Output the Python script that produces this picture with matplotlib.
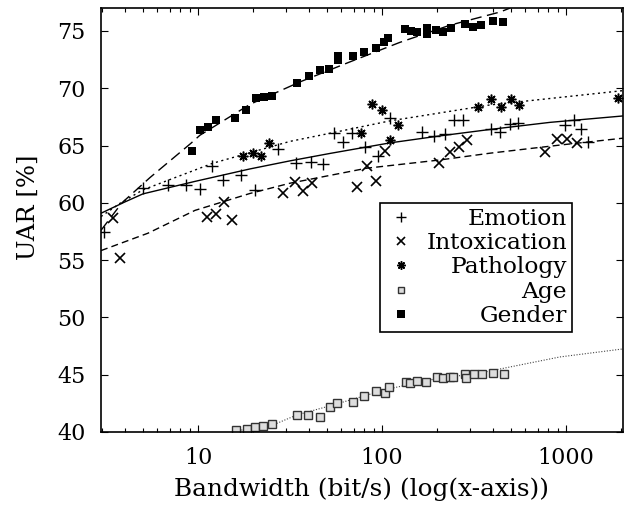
import matplotlib
matplotlib.use('Agg')
import matplotlib.pyplot as plt
from matplotlib.ticker import FixedLocator, FixedFormatter, LogLocator, NullFormatter
from matplotlib.lines import Line2D

plt.rcParams['font.family'] = ['DejaVu Serif']

emotion_x = [3.08, 5.04, 6.90, 8.58, 10.25, 11.9, 13.6, 17.06, 20.4, 27.3, 34.1, 40.9, 47.6,
             54.8, 61.4, 68.4, 81.3, 95.5, 109.9, 165, 191, 220, 247, 275, 391, 438, 496, 551,
             988, 1101, 1211, 1322]
emotion_y = [57.48, 61.27, 61.56, 61.56, 61.21, 63.18, 62.0, 62.39, 61.13, 64.66, 63.46, 63.53,
             63.35, 66.10, 65.31, 66.10, 64.83, 64.07, 67.38, 66.17, 65.84, 66.03, 67.26, 67.26,
             66.47, 66.21, 66.91, 66.97, 66.75, 67.23, 66.40, 65.30]

intox_x = [3.45, 3.75, 11.15, 12.5, 13.8, 15.3, 29.0, 33.7, 37.4, 41.7, 72.9, 82.6, 93.1, 103.2,
           203.5, 234, 261, 290, 769, 890, 1012, 1142]
intox_y = [58.70, 55.16, 58.80, 59.01, 60.10, 58.51, 60.86, 61.82, 61.04, 61.71, 61.41, 63.22,
           61.89, 64.51, 63.48, 64.47, 64.90, 65.49, 64.40, 65.59, 65.58, 65.25]

patho_x = [17.6, 19.8, 22.1, 24.4, 77.2, 88.5, 100, 110.5, 122.2, 333.7, 390, 442, 501, 557, 1923]
patho_y = [64.09, 64.33, 64.09, 65.20, 66.07, 68.61, 68.11, 65.49, 66.75, 68.37, 69.04, 68.32,
           69.08, 68.52, 69.13]

age_x = [16.1, 18.4, 20.4, 22.6, 25.2, 34.4, 39.8, 46.0, 52.2, 57.1, 69.3, 80.1, 92.4, 103.8,
         109.6, 134.5, 141.9, 154.4, 173.4, 198.3, 213.8, 234, 244, 282.6, 286, 316, 348, 403, 460]
age_y = [40.14, 40.27, 40.47, 40.53, 40.71, 41.49, 41.49, 41.29, 42.16, 42.57, 42.65, 43.15,
         43.61, 43.44, 43.96, 44.35, 44.31, 44.49, 44.40, 44.83, 44.69, 44.83, 44.78, 45.07,
         44.69, 45.07, 45.07, 45.13, 45.07]

gender_x = [9.24, 10.25, 11.4, 12.5, 15.9, 18.3, 20.6, 22.8, 25.2, 34.3, 39.9, 45.8, 51.5, 57.7,
            57.7, 69.2, 80.1, 92.7, 102.8, 108.1, 132.5, 143.2, 154, 175, 175, 196.6, 213.9,
            238.5, 280.8, 312.4, 346, 401, 456]
gender_y = [64.49, 66.36, 66.60, 67.23, 67.43, 68.08, 69.15, 69.20, 69.30, 70.42, 71.07, 71.60,
            71.71, 72.82, 72.47, 72.84, 73.19, 73.52, 74.07, 74.39, 75.15, 75.03, 74.94, 75.26,
            74.69, 75.04, 74.94, 75.24, 75.57, 75.35, 75.52, 75.90, 75.74]

# fitted curves, sampled along the reference lines
emotion_fit_x = [2.97, 4.01, 5.02, 9.63, 19.2, 31.6, 52.2, 110.5, 206.5, 386, 818, 2040]
emotion_fit_y = [59.09, 60.08, 60.78, 61.87, 62.96, 63.66, 64.31, 65.23, 65.84, 66.40, 67.02, 67.58]

intox_fit_x = [2.97, 5.35, 9.63, 19.2, 31.6, 82.6, 206.5, 386, 927, 2040]
intox_fit_y = [55.83, 57.35, 59.34, 60.82, 61.71, 63.02, 63.74, 64.33, 65.04, 65.64]

patho_fit_x = [2.97, 3.77, 5.02, 12.06, 31.6, 52.2, 110.5, 386, 2040]
patho_fit_y = [58.80, 59.96, 61.13, 63.46, 65.36, 66.07, 67.15, 68.54, 69.79]

age_fit_x = [15.5, 25.6, 34.5, 54.2, 106.4, 189, 354, 562, 927, 2040]
age_fit_y = [40.05, 40.62, 41.49, 42.36, 43.73, 44.59, 45.20, 45.85, 46.55, 47.25]

gender_fit_x = [2.97, 3.86, 5.48, 9.16, 10.25, 19.2, 35.8, 67, 125, 234, 438, 497]
gender_fit_y = [57.6, 60.0, 62.2, 65.2, 65.9, 68.6, 70.55, 72.3, 74.0, 75.5, 76.65, 77.0]

fig = plt.figure(figsize=(6.33, 5.12), dpi=100)
ax = fig.add_axes([101 / 633, 80 / 512, 522 / 633, 424 / 512])

ax.plot(emotion_fit_x, emotion_fit_y, color='black', lw=1.0, ls='-')
ax.plot(intox_fit_x, intox_fit_y, color='black', lw=1.0, ls=(0, (5, 3)))
ax.plot(patho_fit_x, patho_fit_y, color='black', lw=1.0, ls=(0, (1.5, 2.5)))
ax.plot(age_fit_x, age_fit_y, color='#444444', lw=0.8, ls=(0, (1, 1.5)))
ax.plot(gender_fit_x, gender_fit_y, color='black', lw=1.0, ls=(0, (8, 4)))

ms = dict(ls='none', color='black')
ax.plot(emotion_x, emotion_y, marker='+', ms=8, mew=1.0, **ms)
ax.plot(intox_x, intox_y, marker='x', ms=7, mew=1.2, **ms)
ax.plot(patho_x, patho_y, marker=(8, 2, 0), ms=7, mew=1.1, **ms)
ax.plot(age_x, age_y, marker='s', ms=5.5, mew=1.0, mfc='#dddddd', mec='#333333', ls='none')
ax.plot(gender_x, gender_y, marker='s', ms=6, mew=0, **ms)

ax.set_xscale('log')
ax.set_xlim(2.97, 2040)
ax.set_ylim(40, 77.0)

ax.xaxis.set_major_locator(FixedLocator([10, 100, 1000]))
ax.xaxis.set_major_formatter(FixedFormatter(['10', '100', '1000']))
ax.xaxis.set_minor_locator(LogLocator(base=10, subs=range(2, 10)))
ax.xaxis.set_minor_formatter(NullFormatter())
ax.set_yticks(range(40, 76, 5))

ax.tick_params(which='both', direction='in', top=True, right=True, labelsize=16, width=0.8)
ax.tick_params(which='major', length=5, pad=11)
ax.tick_params(which='minor', length=3)
for s in ax.spines.values():
    s.set_linewidth(1.2)

ax.set_xlabel('Bandwidth (bit/s) (log(x-axis))', fontsize=17.8)
ax.set_ylabel('UAR [%]', fontsize=17.5)
ax.xaxis.set_label_coords(0.5, -0.108)
ax.yaxis.set_label_coords(-0.117, 0.53)

handles = [
    Line2D([], [], marker='+', ms=7, mew=1.0, **ms),
    Line2D([], [], marker='x', ms=6, mew=1.2, **ms),
    Line2D([], [], marker=(8, 2, 0), ms=6, mew=1.1, **ms),
    Line2D([], [], marker='s', ms=5, mew=1.0, mfc='#dddddd', mec='#333333', ls='none'),
    Line2D([], [], marker='s', ms=6, mew=0, **ms),
]
labels = ['Emotion', 'Intoxication', 'Pathology', 'Age', 'Gender']
leg = ax.legend(handles, labels, loc='upper left', bbox_to_anchor=(0.534, 0.54), fontsize=16.8,
                frameon=True, fancybox=False, edgecolor='black', framealpha=1, borderpad=0.2,
                handlelength=1.4, handletextpad=0.4, labelspacing=0.1, borderaxespad=0)
leg.get_frame().set_linewidth(1.2)

# right-align legend texts like gnuplot does
fig.canvas.draw()
r = fig.canvas.get_renderer()
widths = [t.get_window_extent(r).width for t in leg.get_texts()]
for t, w in zip(leg.get_texts(), widths):
    t.set_position((max(widths) - w, 0))

fig.savefig('out.png', dpi=100)
